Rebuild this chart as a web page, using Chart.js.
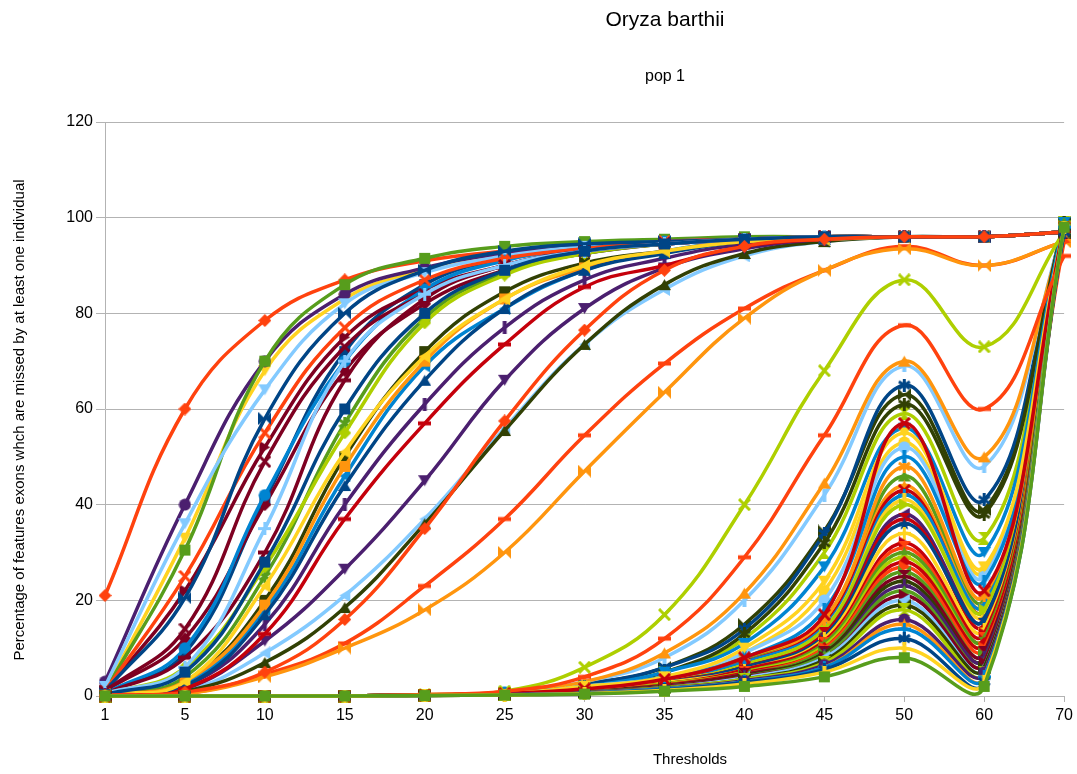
<!DOCTYPE html>
<html>
<head>
<meta charset="utf-8">
<script src="https://cdn.jsdelivr.net/npm/chart.js@4.4.1/dist/chart.umd.min.js"></script>
<style>
  body { margin: 0; background: #fff; }
  #wrap { width: 1077px; height: 774px; }
</style>
</head>
<body>
<div id="wrap"><canvas id="chart" width="1077" height="774"></canvas></div>
<script>
// thresholds on the x axis
var thresholds = ['1', '5', '10', '15', '20', '25', '30', '35', '40', '45', '50', '60', '70'];
var yTicks = [0, 20, 40, 60, 80, 100, 120];

// % of feature exons missed by at least one individual, one row per series
var missedPct = [
  [0.5, 9, 41, 72, 86, 91.5, 94, 95, 95.5, 96, 96, 96, 97],
  [21, 60, 78.5, 87, 91, 93, 94, 95, 95.5, 96, 96, 96, 97],
  [1, 33, 68, 83, 89, 92.5, 94, 95, 95.5, 96, 96, 96, 97],
  [0, 0, 0, 0, 0.2, 0.5, 1.5, 3.5, 7.5, 16, 46, 20, 98],
  [1, 22, 52, 75, 85, 90, 93, 94.5, 95.5, 96, 96, 96, 97],
  [0.2, 1, 9, 21, 37, 56, 73.5, 85, 92, 95, 96, 96, 97],
  [0, 0, 0, 0, 0.2, 0.6, 2.5, 6, 15, 34.5, 63, 39, 99],
  [0, 0, 0, 0, 0.2, 0.6, 2, 5, 12, 30, 59, 33, 99],
  [3, 40, 70, 84, 89.5, 92.5, 94, 95, 95.5, 96, 96, 96, 97],
  [0, 0, 0, 0, 0.2, 0.5, 1.5, 3.5, 7, 15.5, 44, 19, 97],
  [0, 0, 0, 0, 0.2, 0.5, 1.5, 3, 7, 15, 43, 18, 98],
  [0, 0, 0, 0, 0.2, 0.5, 1.5, 3, 7, 14.5, 42, 19, 98],
  [0, 0, 0, 0, 0.2, 0.6, 2.5, 6, 14, 34, 65, 41, 99],
  [0.2, 0.5, 4.5, 11, 23, 37, 54.5, 69.5, 81, 89, 94, 90, 95],
  [0, 0, 0, 0, 0.2, 0.5, 1.5, 3, 6.5, 14, 41, 17, 97],
  [1, 30.5, 70, 86, 91.5, 94, 95, 95.5, 96, 96, 96, 96, 97],
  [1, 12, 40, 68, 82, 89, 92.5, 94.5, 95.5, 96, 96, 96, 97],
  [2, 36, 64, 82, 88.5, 92, 94, 95, 95.5, 96, 96, 96, 97],
  [0.2, 1, 7, 18.5, 36, 55.5, 73.5, 86, 92.5, 95, 96, 96, 97],
  [0, 0, 0, 0, 0.2, 0.5, 1.5, 3, 6.5, 14, 40, 18, 99],
  [0, 0, 0, 0, 0.2, 0.4, 1.2, 3, 6, 13, 38, 16, 98],
  [0.2, 0.5, 4, 10, 18, 30, 47, 63.5, 79, 89, 93.5, 90, 95],
  [0, 0, 0, 0, 0.2, 0.4, 1.2, 3, 6, 13, 37, 15, 97],
  [0.5, 10, 42, 70, 85, 91, 93.5, 95, 95.5, 96, 96, 96, 97],
  [0, 0, 0, 0, 0.2, 0.4, 1.2, 2.8, 6, 12.5, 36, 16, 98],
  [1, 25, 55, 77, 87, 91.5, 93.5, 95, 95.5, 96, 96, 96, 97],
  [0, 0, 0, 0, 0.2, 0.4, 1.2, 2.8, 5.5, 12, 34, 14, 97],
  [0.3, 4, 25, 57, 79, 88.5, 92.5, 94.5, 95.5, 96, 96, 96, 97],
  [0.5, 8, 30, 66, 83, 90, 93, 94.5, 95.5, 96, 96, 96, 97],
  [0, 0, 0, 0, 0.2, 0.8, 3, 8, 20, 42, 69, 48, 98],
  [0.3, 3, 20, 50, 72, 84.5, 90.5, 93, 95, 95.5, 96, 96, 97],
  [0.3, 6, 27, 55, 78, 88, 92.5, 94.5, 95.5, 96, 96, 96, 97],
  [0.3, 1.5, 11.5, 26.5, 45, 66, 81, 89.5, 93.5, 95.5, 96, 96, 97],
  [0, 0, 0, 0, 0.2, 0.8, 3, 9, 21.5, 44.5, 70, 50, 97],
  [0, 0, 0, 0, 0.2, 0.4, 1.2, 2.5, 5.5, 11.5, 32, 13, 98],
  [0.3, 2.5, 18, 46, 69, 81, 89, 93, 95, 95.5, 96, 96, 97],
  [1, 20.5, 58, 80, 89, 93, 94.5, 95, 95.5, 96, 96, 96, 97],
  [0, 0, 0, 0, 0.2, 0.4, 1, 2.5, 5, 11, 31, 12, 96],
  [0, 0, 0, 0, 0.2, 0.5, 2, 4, 9, 22, 53, 26, 98],
  [0, 0, 0, 0, 0.2, 0.4, 1, 2.5, 5, 11, 30, 12, 98],
  [1, 14, 49, 73, 84, 90, 93, 94.5, 95.5, 96, 96, 96, 97],
  [0.5, 6, 35, 70, 84, 90, 93, 94.5, 95.5, 96, 96, 96, 97],
  [0, 0, 0, 0, 0.2, 0.6, 2, 5, 13, 32, 61, 38, 99],
  [0, 0, 0, 0, 0.2, 0.4, 1, 2.5, 5, 10.5, 29, 11, 99],
  [0.3, 2, 15, 40, 61, 77, 87, 91.5, 94.5, 95.5, 96, 96, 97],
  [0.3, 3, 19, 48, 70, 83, 89.5, 93, 95, 95.5, 96, 96, 97],
  [0, 0, 0, 0, 0.2, 0.4, 1, 2.3, 4.8, 10, 28, 11, 97],
  [0, 0, 0, 0, 0.2, 0.5, 2, 5, 11, 27, 56, 30, 99],
  [0.3, 2, 17, 44, 66, 81, 89, 92.5, 95, 95.5, 96, 96, 97],
  [0, 0, 0, 0, 0.2, 0.4, 1, 2.3, 4.5, 10, 27, 10, 95],
  [0.3, 3, 23, 51, 71, 83, 90, 93, 95, 95.5, 96, 96, 97],
  [0, 0, 0, 0, 0.2, 0.4, 1, 2.2, 4.5, 9.5, 26, 9, 98],
  [0, 0, 0, 0, 0.2, 0.4, 1, 2.2, 4.5, 9, 25, 9, 97],
  [0, 0, 0, 0, 0.2, 0.5, 2, 4, 9, 20, 52, 25, 98],
  [0, 0, 0, 0, 0.2, 0.4, 1, 2, 4.2, 9, 24, 8, 98],
  [0, 0, 0, 0, 0.3, 1, 6, 17, 40, 68, 87, 73, 97],
  [0, 0, 0, 0, 0.2, 0.3, 0.8, 2, 4, 8.5, 23, 8, 97],
  [0, 0, 0, 0, 0.2, 0.5, 1.5, 3.5, 8, 16, 48, 21, 98],
  [0.3, 1.5, 13, 37, 57, 73.5, 85.5, 90, 94, 95.5, 96, 96, 97],
  [0, 0, 0, 0, 0.2, 0.5, 1.5, 4, 8, 18, 50, 24, 98],
  [0.3, 5, 28, 60, 80, 89, 93, 94.5, 95.5, 96, 96, 96, 97],
  [0.2, 0.8, 5, 16, 35, 57.5, 76.5, 89, 94, 95.5, 96, 96, 97],
  [0, 0, 0, 0, 0.2, 0.5, 2, 4, 10, 24, 55, 27, 98],
  [0, 0, 0, 0, 0.2, 0.3, 0.8, 2, 4, 8.5, 22, 7, 99],
  [0, 0, 0, 0, 0.2, 0.3, 0.8, 2, 4, 8, 21, 7, 97],
  [0, 0, 0, 0, 0.2, 0.3, 0.8, 1.8, 3.8, 8, 20, 6, 98],
  [0, 0, 0, 0, 0.2, 0.3, 0.8, 1.8, 3.5, 7.5, 19, 6, 97],
  [0, 0, 0, 0, 0.1, 0.3, 0.7, 1.7, 3.5, 7, 18, 5, 98],
  [0, 0, 0, 0, 0.1, 0.3, 0.7, 1.6, 3.2, 6.5, 16, 5, 97],
  [0, 0, 0, 0, 0.1, 0.3, 0.6, 1.5, 3, 6, 15, 4, 97],
  [0, 0, 0, 0, 0.2, 0.5, 1.5, 3.5, 8, 17, 57, 22, 98],
  [0, 0, 0, 0, 0.1, 0.3, 0.6, 1.5, 3, 6, 14, 4, 98],
  [0, 0, 0, 0, 0.1, 0.2, 0.5, 1.3, 2.8, 5.5, 12, 3, 97],
  [0, 0, 0, 0, 0.3, 1, 4, 12, 29, 54.5, 77.5, 60, 92],
  [0, 0, 0, 0, 0.1, 0.2, 0.5, 1.2, 2.5, 5, 10, 3, 98],
  [0, 0, 0, 0, 0.1, 0.2, 0.4, 1, 2, 4, 8, 2, 98]
];

// office-style default palette and symbol cycle
var palette = ['#004586', '#ff420e', '#ffd320', '#579d1c', '#7e0021', '#83caff',
               '#314004', '#aecf00', '#4b1f6f', '#ff950e', '#c5000b', '#0084d1'];
var symbols = ['square', 'diamond', 'down', 'up', 'right', 'left', 'bowtie', 'sandglass',
               'circle', 'star', 'x', 'plus', 'asterisk', 'hbar', 'vbar'];

var FONT = "'Liberation Sans', Arial, sans-serif";

function poly(g, pts) {
    g.beginPath();
    g.moveTo(pts[0][0], pts[0][1]);
    for (var i = 1; i < pts.length; i++) g.lineTo(pts[i][0], pts[i][1]);
    g.closePath();
    g.fill();
}

// small canvas used as point style
function makeMarker(shape, color) {
    var s = 13, m = s / 2;
    var c = document.createElement('canvas');
    c.width = s; c.height = s;
    var g = c.getContext('2d');
    g.fillStyle = color;
    g.strokeStyle = color;
    g.lineWidth = 3;
    switch (shape) {
        case 'square': g.fillRect(1, 1, s - 2, s - 2); break;
        case 'diamond': poly(g, [[m, 0], [s, m], [m, s], [0, m]]); break;
        case 'down': poly(g, [[0, 1], [s, 1], [m, s - 1]]); break;
        case 'up': poly(g, [[0, s - 1], [s, s - 1], [m, 1]]); break;
        case 'right': poly(g, [[1, 0], [s - 1, m], [1, s]]); break;
        case 'left': poly(g, [[s - 1, 0], [1, m], [s - 1, s]]); break;
        case 'bowtie':
            poly(g, [[0, 0], [m, m], [0, s]]);
            poly(g, [[s, 0], [m, m], [s, s]]);
            break;
        case 'sandglass':
            poly(g, [[0, 0], [s, 0], [m, m]]);
            poly(g, [[0, s], [s, s], [m, m]]);
            break;
        case 'circle':
            g.beginPath(); g.arc(m, m, m - 0.5, 0, Math.PI * 2); g.fill();
            break;
        case 'star':
            var pts = [];
            for (var k = 0; k < 10; k++) {
                var r = k % 2 === 0 ? m : 2.8;
                var a = -Math.PI / 2 + k * Math.PI / 5;
                pts.push([m + r * Math.cos(a), m + 0.6 + r * Math.sin(a)]);
            }
            poly(g, pts);
            break;
        case 'x':
            g.beginPath(); g.moveTo(1, 1); g.lineTo(s - 1, s - 1); g.moveTo(s - 1, 1); g.lineTo(1, s - 1); g.stroke();
            break;
        case 'plus':
            g.beginPath(); g.moveTo(m, 0); g.lineTo(m, s); g.moveTo(0, m); g.lineTo(s, m); g.stroke();
            break;
        case 'asterisk':
            g.beginPath();
            g.moveTo(m, 0); g.lineTo(m, s);
            g.moveTo(1, 3); g.lineTo(s - 1, s - 3);
            g.moveTo(s - 1, 3); g.lineTo(1, s - 3);
            g.stroke();
            break;
        case 'hbar': g.fillRect(0, m - 2, s, 4); break;
        case 'vbar': g.fillRect(m - 2, 0, 4, s); break;
    }
    return c;
}

var datasets = missedPct.map(function (row, i) {
    var col = palette[i % palette.length];
    return {
        label: 'Series ' + (i + 1),
        data: row,
        borderColor: col,
        backgroundColor: col,
        borderWidth: 3.5,
        pointStyle: makeMarker(symbols[i % symbols.length], col),
        pointRadius: 6,
        tension: 0.42,
        clip: false,
        order: -i
    };
});

// titles placed like the office export
var titlePlugin = {
    id: 'officeTitles',
    afterDraw: function (chart) {
        var g = chart.ctx;
        g.save();
        g.fillStyle = '#000';
        g.textAlign = 'center';
        g.textBaseline = 'middle';
        g.font = '21px ' + FONT;
        g.fillText('Oryza barthii', 665, 20);
        g.font = '16px ' + FONT;
        g.fillText('pop 1', 665, 77);
        g.font = '15px ' + FONT;
        g.fillText('Thresholds', 690, 760);
        g.translate(20, 420);
        g.rotate(-Math.PI / 2);
        g.font = '15px ' + FONT;
        g.fillText('Percentage of features exons whch are missed by at least one individual', 0, 0);
        g.restore();
    }
};

var ctx = document.getElementById('chart');

chart = new Chart(ctx, {
    type: 'line',
    data: { labels: thresholds, datasets: datasets },
    plugins: [titlePlugin],
    options: {
        responsive: false,
        animation: false,
        devicePixelRatio: 1,
        layout: { padding: { top: 122, right: 10, left: 0, bottom: 0 } },
        elements: { line: { capBezierPoints: false } },
        plugins: {
            legend: { display: false },
            tooltip: { enabled: false },
            title: { display: false }
        },
        scales: {
            x: {
                offset: false,
                grid: { drawOnChartArea: false, drawTicks: true, tickLength: 6, color: '#b3b3b3' },
                border: { display: true, color: '#b3b3b3' },
                ticks: { color: '#000', font: { family: FONT, size: 16 }, padding: 4, maxRotation: 0, autoSkip: false },
                afterFit: function (scale) { scale.height = 78; }
            },
            y: {
                min: yTicks[0],
                max: yTicks[yTicks.length - 1],
                afterBuildTicks: function (scale) {
                    scale.ticks = yTicks.map(function (v) { return { value: v }; });
                },
                grid: { color: '#b3b3b3', tickLength: 9, lineWidth: 1 },
                border: { display: true, color: '#b3b3b3' },
                ticks: { color: '#000', font: { family: FONT, size: 16 }, padding: 3 },
                afterFit: function (scale) { scale.width = 105; }
            }
        }
    }
});
</script>
</body>
</html>
